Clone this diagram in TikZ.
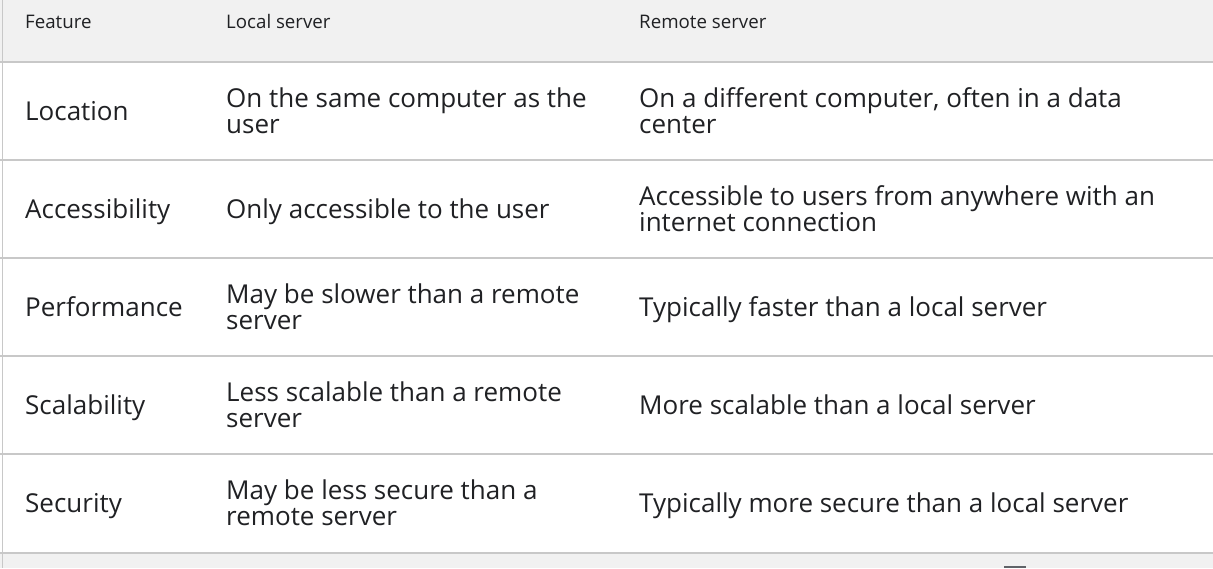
\documentclass[tikz,border=0pt]{standalone}
\usepackage{fontspec}
\setmainfont{Open Sans}
\definecolor{headbg}{HTML}{F1F1F1}
\definecolor{rulegray}{HTML}{C8C8C8}
\definecolor{ink}{HTML}{202124}
\definecolor{markgray}{HTML}{5F6368}
\tikzset{
  cell/.style={anchor=west, align=left, inner sep=0pt, text=ink,
    text height=18.6pt, text depth=0pt,
    font=\fontsize{26}{26.5}\selectfont},
  twoline/.style={cell, yshift=-13.25pt},
  head/.style={anchor=west, inner sep=0pt, text=ink,
    text height=13pt, text depth=0pt,
    font=\fontsize{18.7}{20}\selectfont},
  sep/.style={draw=rulegray, line width=1.3pt}
}
\begin{document}
\begin{tikzpicture}[x=1pt, y=-1pt]
      \useasboundingbox (0,0) rectangle (1213,568);
      \fill[white] (0,0) rectangle (1213,568);
      \fill[headbg] (0,0) rectangle (1213,62);
      \fill[headbg] (0,553) rectangle (1213,568);
      \fill[markgray] (1004,566) rectangle (1026,568);
      % row rules
      \foreach \y in {62,160,258,356,454,553}
        \draw[sep] (0,\y) -- (1213,\y);
      \draw[sep] (2.5,0) -- (2.5,568);
      % header
      \draw
        (25,21.7) node[head] (hfeat){Feature}
        (226,21.7) node[head] (hlocal){Local server}
        (639,21.7) node[head] (hremote){Remote server};
      % body
      \draw
        (25,111) node[cell] (loc){Location}
        (226,111) node[twoline] (locl){On the same computer as the\\user}
        (639,111) node[twoline] (locr){On a different computer, often in a data\\center}
        (25,209) node[cell] (acc){Accessibility}
        (226,209) node[cell] (accl){Only accessible to the user}
        (639,209) node[twoline] (accr){Accessible to users from anywhere with an\\internet connection}
        (25,307) node[cell] (perf){Performance}
        (226,307) node[twoline] (perfl){May be slower than a remote\\server}
        (639,307) node[cell] (perfr){Typically faster than a local server}
        (25,405) node[cell] (scal){Scalability}
        (226,405) node[twoline] (scall){Less scalable than a remote\\server}
        (639,405) node[cell] (scalr){More scalable than a local server}
        (25,503) node[cell] (sec){Security}
        (226,503) node[twoline] (secl){May be less secure than a\\remote server}
        (639,503) node[cell] (secr){Typically more secure than a local server};
    \end{tikzpicture}
\end{document}
